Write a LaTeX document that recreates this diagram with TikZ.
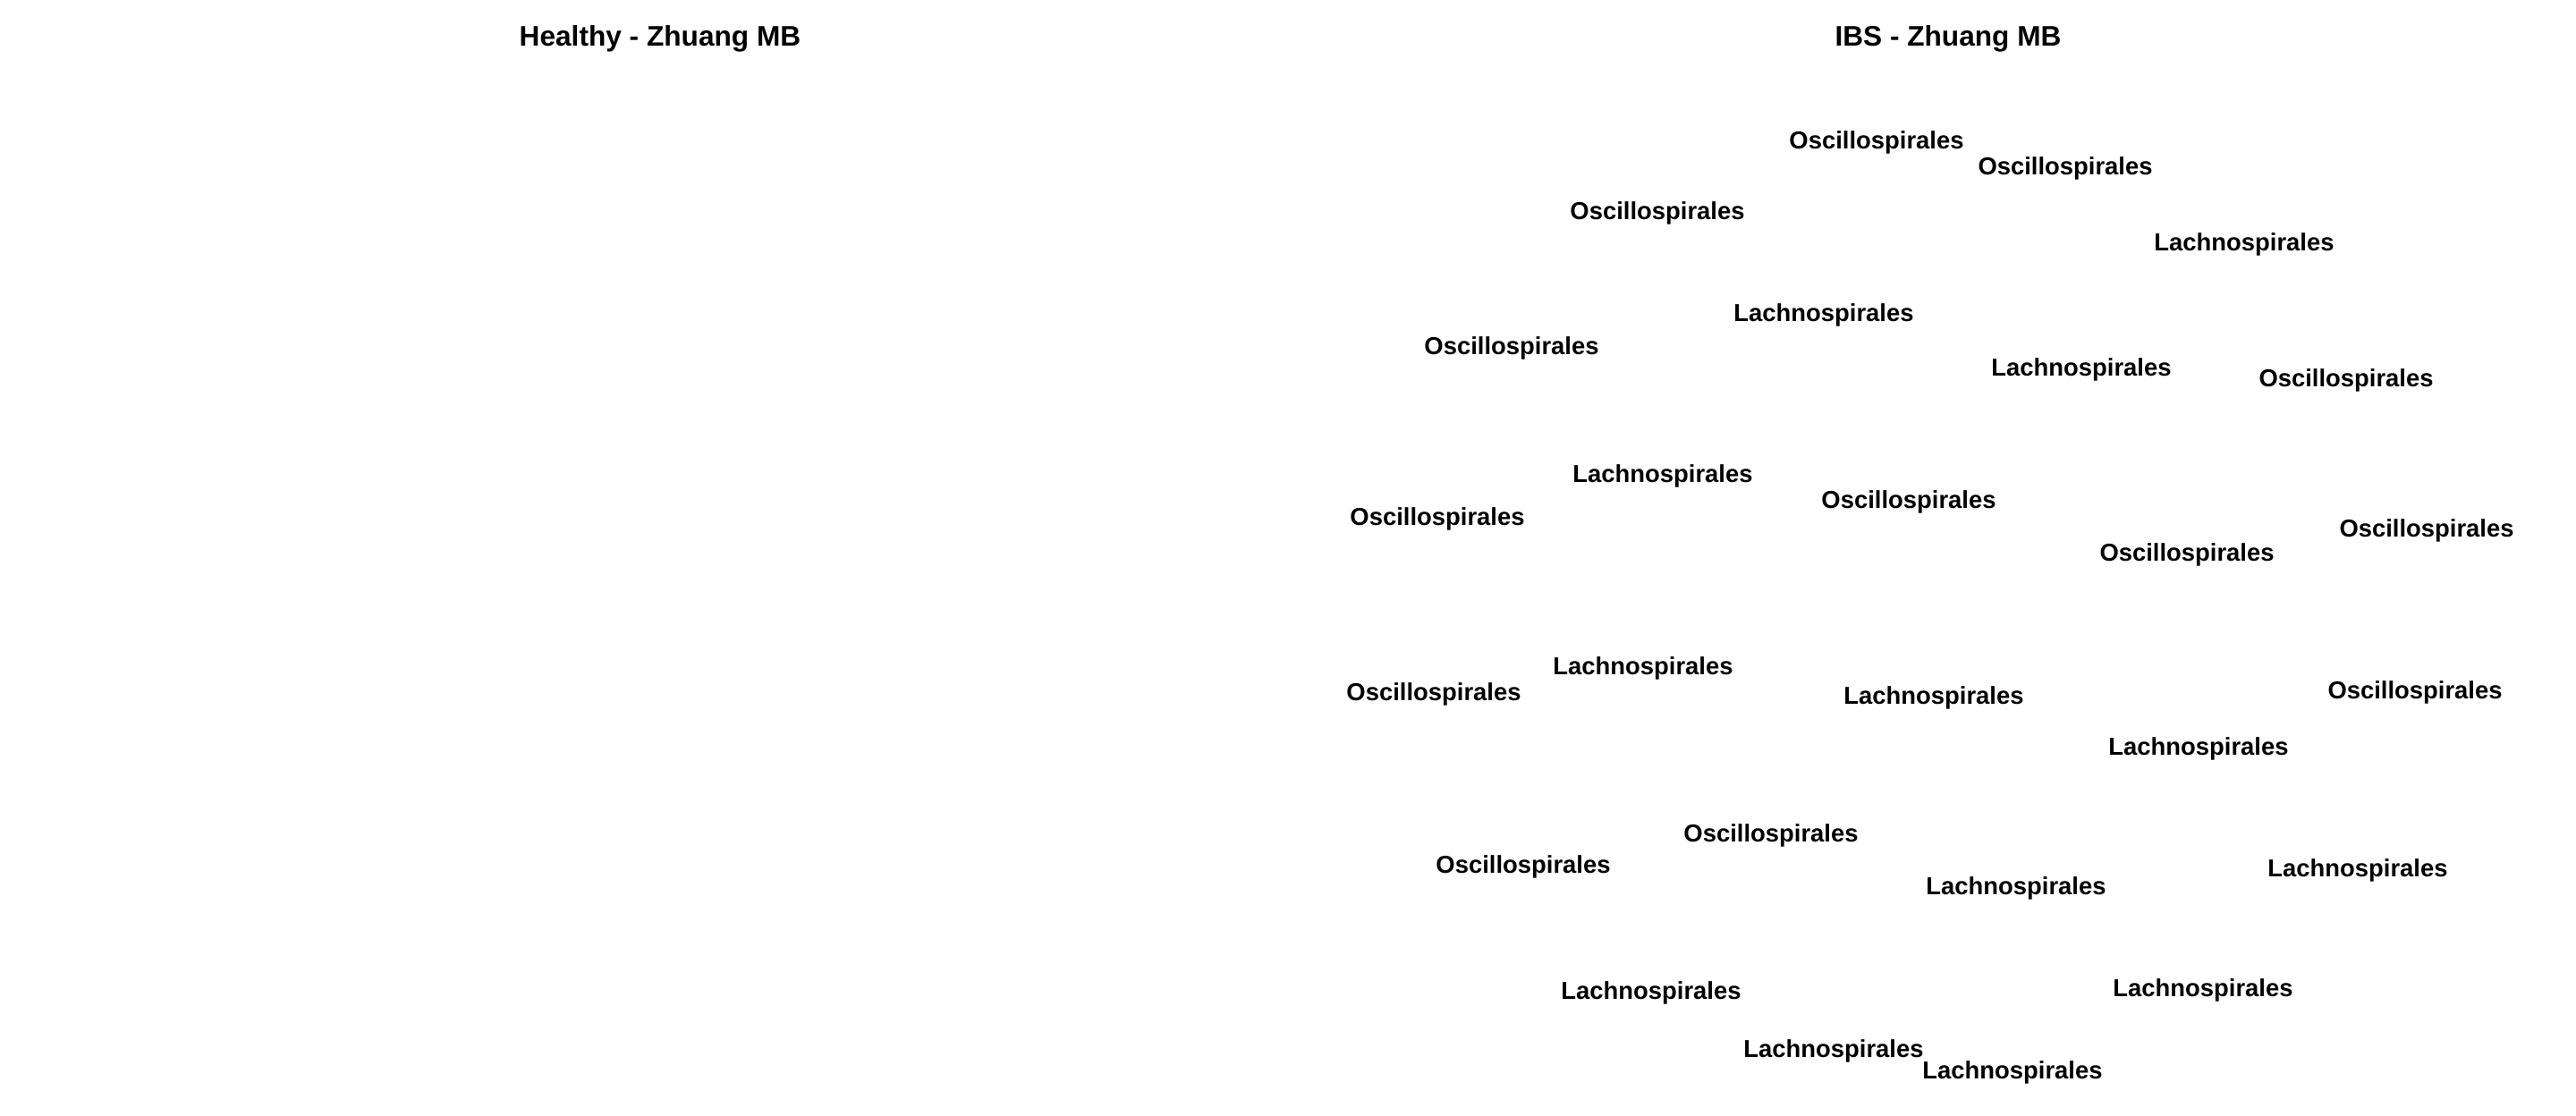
\documentclass[tikz,border=0pt]{standalone}
\usepackage{fontspec}
\setmainfont{Liberation Sans}
\usepackage{tikz}

\tikzset{
  paneltitle/.style={font=\fontsize{9}{10}\selectfont\bfseries, inner sep=0pt, yshift=-1.2pt},
  taxlabel/.style={font=\fontsize{7.8}{9}\selectfont\bfseries, inner sep=0pt, yshift=-1pt}
}

\begin{document}
\begin{tikzpicture}

    % ===== CANVAS =====
    \fill[white] (0,0) rectangle (28.8,12.48);
    \useasboundingbox (0,0) rectangle (28.8,12.48);

    % ===== PANEL TITLES =====
    \node[paneltitle] (healthytitle) at (7.38, 12.09) {Healthy - Zhuang MB};
    \node[paneltitle] (ibstitle)     at (21.78, 12.09) {IBS - Zhuang MB};

    % ===== IBS PANEL: ORDER LABELS =====
    \foreach \px/\py/\order [count=\i] in {
        20.98/10.92/Oscillospirales, 23.09/10.63/Oscillospirales,
        18.53/10.13/Oscillospirales, 25.09/9.78/Lachnospirales,
        20.39/8.99/Lachnospirales,   16.90/8.62/Oscillospirales,
        23.27/8.38/Lachnospirales,   26.23/8.26/Oscillospirales,
        18.59/7.19/Lachnospirales,   16.07/6.71/Oscillospirales,
        21.34/6.90/Oscillospirales,  24.45/6.31/Oscillospirales,
        27.13/6.58/Oscillospirales,  18.37/5.04/Lachnospirales,
        16.03/4.75/Oscillospirales,  21.62/4.71/Lachnospirales,
        27.00/4.77/Oscillospirales,  24.58/4.14/Lachnospirales,
        19.80/3.17/Oscillospirales,  17.03/2.82/Oscillospirales,
        22.54/2.58/Lachnospirales,   26.36/2.78/Lachnospirales,
        18.46/1.41/Lachnospirales,   24.63/1.44/Lachnospirales,
        20.50/0.76/Lachnospirales,   22.50/0.52/Lachnospirales} {
        \node[taxlabel] (ibs\i) at (\px, \py) {\order};
    }

\end{tikzpicture}
\end{document}
